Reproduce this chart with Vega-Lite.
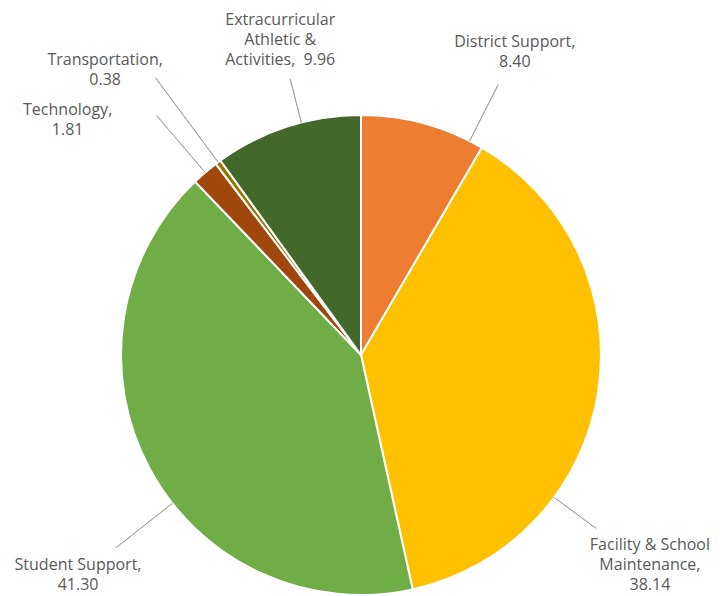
{
  "$schema": "https://vega.github.io/schema/vega-lite/v6.json",
  "width": 722,
  "height": 482,
  "autosize": {"type": "none"},
  "padding": {"left": 0, "top": 114, "right": 6, "bottom": 0},
  "background": "white",
  "view": {"stroke": null},
  "data": {
    "values": [
      {"order": 1, "category": "District Support", "value": 8.40, "label": "District Support,\n8.40"},
      {"order": 2, "category": "Facility & School Maintenance", "value": 38.14, "label": "Facility & School\nMaintenance,\n38.14"},
      {"order": 3, "category": "Student Support", "value": 41.30, "label": "Student Support,\n41.30"},
      {"order": 4, "category": "Technology", "value": 1.81, "label": "Technology,\n1.81"},
      {"order": 5, "category": "Transportation", "value": 0.38, "label": "Transportation,\n0.38"},
      {"order": 6, "category": "Extracurricular Athletic & Activities", "value": 9.96, "label": "Extracurricular\nAthletic &\nActivities,\u00a0 9.96"}
    ]
  },
  "transform": [
    {"stack": "value", "groupby": [], "sort": [{"field": "order", "order": "ascending"}], "as": ["v0", "v1"]},
    {"calculate": "(datum.v0 + datum.v1) / 2", "as": "mid"}
  ],
  "layer": [
    {
      "mark": {"type": "arc", "radius": 240, "stroke": "white", "strokeWidth": 2},
      "encoding": {
        "theta": {"field": "v1", "type": "quantitative", "stack": null, "scale": {"range": [0, 6.283185307], "zero": true, "nice": false}},
        "theta2": {"field": "v0"},
        "color": {
          "field": "category",
          "type": "nominal",
          "scale": {
            "domain": ["District Support", "Facility & School Maintenance", "Student Support", "Technology", "Transportation", "Extracurricular Athletic & Activities"],
            "range": ["#ED7D31", "#FFC000", "#70AD47", "#9E480E", "#997300", "#43682B"]
          },
          "legend": null
        }
      }
    },
    {
      "mark": {
        "type": "arc",
        "filled": false,
        "fill": null,
        "stroke": "#a6a6a6",
        "strokeWidth": 1,
        "radius2": 240,
        "radius": {"expr": "datum.order == 1 ? 303 : datum.order == 2 ? 292 : datum.order == 3 ? 312 : datum.order == 4 ? 315 : datum.order == 5 ? 345 : 285"},
        "thetaOffset": {"expr": "datum.order == 1 ? 0.2056 : datum.order == 2 ? 0.4801 : datum.order == 3 ? -0.1761 : datum.order == 6 ? 0.0618 : 0"},
        "theta2Offset": {"expr": "datum.order == 1 ? 0.2056 : datum.order == 2 ? 0.4801 : datum.order == 3 ? -0.1761 : datum.order == 6 ? 0.0618 : 0"}
      },
      "encoding": {
        "theta": {"field": "mid", "type": "quantitative", "stack": null},
        "theta2": {"field": "mid"}
      }
    },
    {
      "mark": {
        "type": "text",
        "font": "Open Sans",
        "fontSize": 16,
        "fill": "#595959",
        "lineBreak": "\n",
        "lineHeight": 20,
        "align": "center",
        "baseline": "middle",
        "dy": {"expr": "datum.order == 2 ? -23 : datum.order == 6 ? -20 : datum.order == 3 ? -13 : -10"},
        "radius": {"expr": "datum.order == 1 ? 340 : datum.order == 2 ? 359 : datum.order == 3 ? 360 : datum.order == 4 ? 376 : datum.order == 5 ? 383 : 325"},
        "thetaOffset": {"expr": "datum.order == 1 ? 0.2056 : datum.order == 2 ? 0.4801 : datum.order == 3 ? -0.1761 : datum.order == 4 ? -0.1883 : datum.order == 5 ? -0.0937 : 0.0618"}
      },
      "encoding": {
        "theta": {"field": "mid", "type": "quantitative", "stack": null},
        "text": {"field": "label"}
      }
    }
  ]
}
